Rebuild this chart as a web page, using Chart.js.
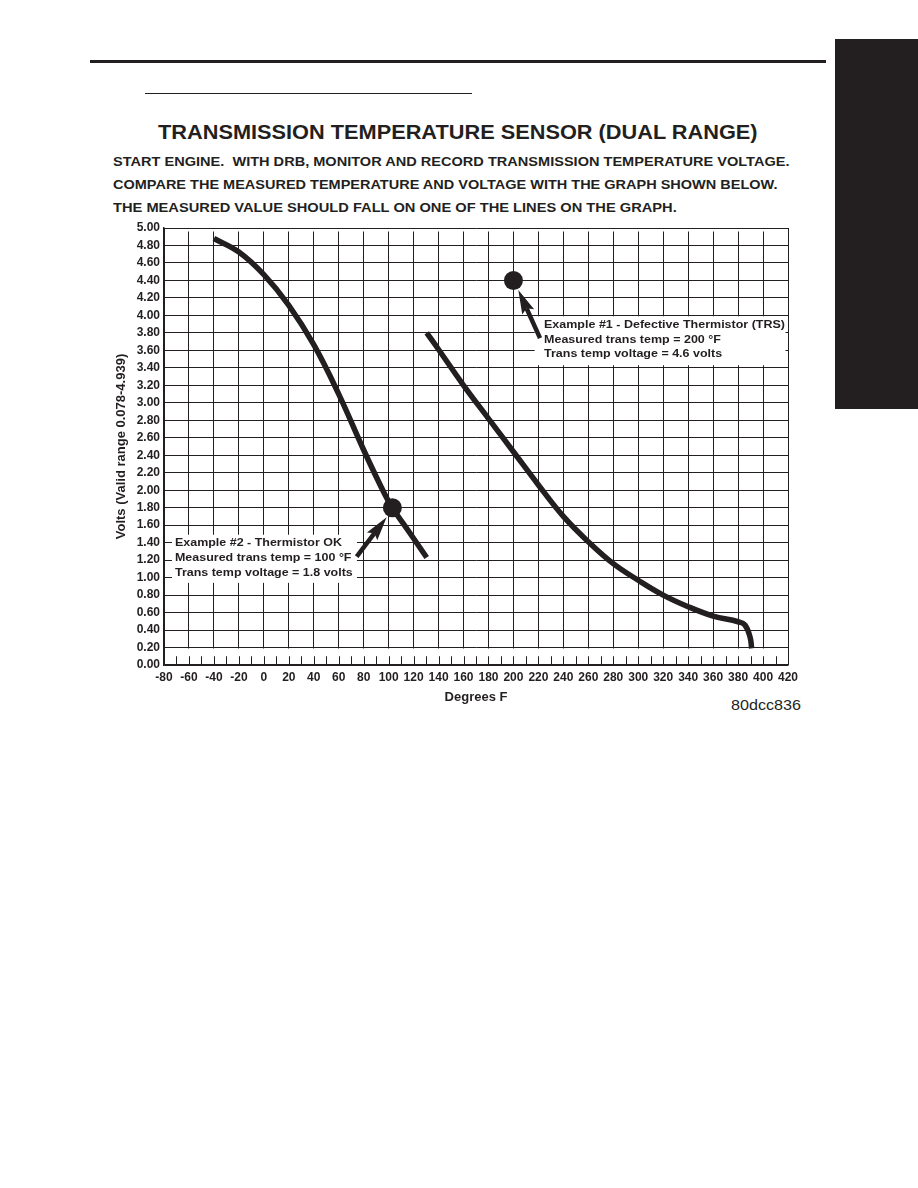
<!DOCTYPE html>
<html>
<head>
<meta charset="utf-8">
<title>Transmission Temperature Sensor (Dual Range)</title>
<script src="https://cdn.jsdelivr.net/npm/chart.js@4.4.1/dist/chart.umd.min.js"></script>
<style>
html,body{margin:0;padding:0;background:#fff;}
body{width:918px;height:1188px;position:relative;overflow:hidden;
font-family:'Liberation Sans',Arial,Helvetica,sans-serif;color:#231f20;}
#grafico{position:absolute;left:0;top:0;}
.rule{position:absolute;background:#231f20;}
.txt{position:absolute;white-space:nowrap;font-weight:bold;line-height:1;transform-origin:0 50%;}
</style>
</head>
<body>

<div class="rule" style="left:90px;top:60px;width:736px;height:3px"></div>
<div class="rule" style="left:145px;top:93px;width:327px;height:1px"></div>
<div class="rule" style="left:835px;top:39px;width:83px;height:370px"></div>

<div class="txt" data-x="158" data-cy="133" data-w="600" data-fs="19.5">TRANSMISSION TEMPERATURE SENSOR (DUAL RANGE)</div>
<div class="txt" data-x="113" data-cy="161" data-w="677" data-fs="13">START ENGINE.&nbsp; WITH DRB, MONITOR AND RECORD TRANSMISSION TEMPERATURE VOLTAGE.</div>
<div class="txt" data-x="113" data-cy="184" data-w="665" data-fs="13">COMPARE THE MEASURED TEMPERATURE AND VOLTAGE WITH THE GRAPH SHOWN BELOW.</div>
<div class="txt" data-x="113" data-cy="207" data-w="564" data-fs="13">THE MEASURED VALUE SHOULD FALL ON ONE OF THE LINES ON THE GRAPH.</div>
<div class="txt" data-x="731" data-cy="704" data-w="70" data-fs="15" style="font-weight:normal">80dcc836</div>

<canvas id="grafico" width="918" height="1188"></canvas>

<script>
const INK = '#231f20';

// tick labels
const tempTicks = [-80, -60, -40, -20, 0, 20, 40, 60, 80, 100, 120, 140, 160,
  180, 200, 220, 240, 260, 280, 300, 320, 340, 360, 380, 400, 420];
const voltTicks = [0.00, 0.20, 0.40, 0.60, 0.80, 1.00, 1.20, 1.40, 1.60, 1.80,
  2.00, 2.20, 2.40, 2.60, 2.80, 3.00, 3.20, 3.40, 3.60, 3.80, 4.00, 4.20, 4.40,
  4.60, 4.80, 5.00];

// low range curve
const lowTemp = [-40, -20, 0, 20, 40, 60, 80, 97, 103, 117, 130.5];
const lowVolts = [4.88, 4.725, 4.466, 4.115, 3.665, 3.10, 2.46, 1.95, 1.80, 1.51, 1.23];

// high range curve
const highTemp = [130.5, 140, 160, 180, 200, 220, 240, 260, 280, 300, 320, 340,
  360, 380, 385.5, 389.6, 390.9];
const highVolts = [3.80, 3.61, 3.20, 2.82, 2.44, 2.06, 1.70, 1.41, 1.16, 0.97,
  0.80, 0.667, 0.56, 0.495, 0.458, 0.32, 0.19];

// the two example readings
const exampleTemp = [103, 200];
const exampleVolts = [1.80, 4.40];

const callouts = [
  {
    box: {x0: 217, x1: 418, y0: 3.99, y1: 3.43},
    textX: 224.5,
    textY: [3.89, 3.72, 3.56],
    width: 241,
    lines: ['Example #1 - Defective Thermistor (TRS)',
            'Measured trans temp = 200 \u00B0F',
            'Trans temp voltage = 4.6 volts'],
    arrow: {from: [221.3, 3.74], to: [203.9, 4.29]}
  },
  {
    box: {x0: -73.6, x1: 74.6, y0: 1.49, y1: 0.94},
    textX: -71.2,
    textY: [1.40, 1.22, 1.05],
    width: 167,
    lines: ['Example #2 - Thermistor OK',
            'Measured trans temp = 100 \u00B0F',
            'Trans temp voltage = 1.8 volts'],
    arrow: {from: [74.4, 1.24], to: [98.4, 1.69]}
  }
];

const fonte = "'Liberation Sans', Arial, Helvetica, sans-serif";

function pontos(xs, ys) {
  return xs.map((v, i) => ({x: v, y: ys[i]}));
}

// place the page texts and stretch them to the width of the original lettering
function posicionarTextos() {
  const medidor = document.createElement('canvas').getContext('2d');
  document.querySelectorAll('.txt').forEach(el => {
    const fs = parseFloat(el.dataset.fs);
    const peso = el.style.fontWeight === 'normal' ? 'normal' : 'bold';
    medidor.font = peso + ' ' + fs + 'px ' + fonte;
    const w = medidor.measureText(el.textContent).width;
    el.style.fontSize = fs + 'px';
    el.style.left = el.dataset.x + 'px';
    el.style.top = (parseFloat(el.dataset.cy) - 0.5 * fs) + 'px';
    el.style.transform = 'scaleX(' + (parseFloat(el.dataset.w) / w).toFixed(4) + ')';
  });
}

function seta(ctx, x1, y1, x2, y2) {
  const ang = Math.atan2(y2 - y1, x2 - x1);
  const comp = 24, meia = 6.5, entalhe = 4;
  const c = Math.cos(ang), s = Math.sin(ang);
  const bx = x2 - comp * c, by = y2 - comp * s;
  const nx = -s, ny = c;
  ctx.beginPath();
  ctx.moveTo(x1, y1);
  ctx.lineTo(bx + entalhe * c, by + entalhe * s);
  ctx.lineWidth = 4.5;
  ctx.strokeStyle = INK;
  ctx.stroke();
  ctx.beginPath();
  ctx.moveTo(x2, y2);
  ctx.lineTo(bx + meia * nx, by + meia * ny);
  ctx.lineTo(bx + entalhe * c, by + entalhe * s);
  ctx.lineTo(bx - meia * nx, by - meia * ny);
  ctx.closePath();
  ctx.fillStyle = INK;
  ctx.fill();
}

const extras = {
  id: 'extras',
  beforeDatasetsDraw(chart) {
    const {ctx, chartArea, scales: {x, y}} = chart;
    ctx.save();
    ctx.fillStyle = '#fff';

    // vertical rules stop a little short of the top border
    ctx.fillRect(chartArea.left + 1, chartArea.top + 1, chartArea.width - 2, 2.5);

    // lowest band: only short ticks every 10 °F
    const yTop = y.getPixelForValue(0.2);
    const yBot = y.getPixelForValue(0);
    const yTick = y.getPixelForValue(0.1);
    ctx.fillRect(x.left + 1, yTop + 1, x.right - x.left - 2, yBot - yTop - 2);
    ctx.strokeStyle = INK;
    ctx.lineWidth = 1;
    for (let t = x.min + 10; t < x.max; t += 10) {
      const px = Math.round(x.getPixelForValue(t)) + 0.5;
      ctx.beginPath();
      ctx.moveTo(px, yBot);
      ctx.lineTo(px, yTick);
      ctx.stroke();
    }

    // callout boxes
    ctx.font = 'bold 11px ' + fonte;
    ctx.textBaseline = 'middle';
    ctx.textAlign = 'left';
    callouts.forEach(c => {
      const l = x.getPixelForValue(c.box.x0), r = x.getPixelForValue(c.box.x1);
      const t = y.getPixelForValue(c.box.y0), b = y.getPixelForValue(c.box.y1);
      ctx.fillStyle = '#fff';
      ctx.fillRect(l, t, r - l, b - t);
      ctx.fillStyle = INK;
      const k = c.width / ctx.measureText(c.lines[0]).width;
      c.lines.forEach((txt, i) => {
        ctx.save();
        ctx.translate(x.getPixelForValue(c.textX), y.getPixelForValue(c.textY[i]));
        ctx.scale(k, 1);
        ctx.fillText(txt, 0, 0);
        ctx.restore();
      });
    });
    ctx.restore();
  },
  afterDatasetsDraw(chart) {
    const {ctx, scales: {x, y}} = chart;
    ctx.save();
    callouts.forEach(c => {
      seta(ctx,
        x.getPixelForValue(c.arrow.from[0]), y.getPixelForValue(c.arrow.from[1]),
        x.getPixelForValue(c.arrow.to[0]), y.getPixelForValue(c.arrow.to[1]));
    });
    ctx.restore();
  }
};

posicionarTextos();

new Chart(document.getElementById('grafico'), {
  type: 'line',
  data: {
    datasets: [
      {
        label: 'Low range',
        data: pontos(lowTemp, lowVolts),
        borderColor: INK,
        borderWidth: 5.5,
        pointRadius: 0,
        tension: 0.4,
        borderCapStyle: 'butt'
      },
      {
        label: 'High range',
        data: pontos(highTemp, highVolts),
        borderColor: INK,
        borderWidth: 5.5,
        pointRadius: 0,
        tension: 0.4,
        borderCapStyle: 'butt'
      },
      {
        label: 'Examples',
        data: pontos(exampleTemp, exampleVolts),
        showLine: false,
        pointRadius: 9.5,
        pointBackgroundColor: INK,
        pointBorderColor: INK,
        pointBorderWidth: 0
      }
    ]
  },
  options: {
    responsive: false,
    animation: false,
    events: [],
    layout: {
      padding: {left: 104, top: 228, right: 130, bottom: 473}
    },
    plugins: {
      legend: {display: false},
      tooltip: {enabled: false}
    },
    scales: {
      x: {
        type: 'linear',
        min: -80,
        max: 420,
        afterBuildTicks: s => { s.ticks = tempTicks.map(v => ({value: v})); },
        afterFit: s => { s.height = 50; },
        ticks: {
          autoSkip: false,
          maxRotation: 0,
          padding: 5,
          color: INK,
          font: {family: fonte, size: 12, weight: 'bold'},
          callback: v => String(v)
        },
        grid: {color: INK, lineWidth: 1, drawTicks: false},
        border: {color: INK, width: 1.5},
        title: {
          display: true,
          text: 'Degrees F',
          color: INK,
          font: {family: fonte, size: 13, weight: 'bold'},
          padding: {top: 0, bottom: 9.5}
        }
      },
      y: {
        type: 'linear',
        min: 0,
        max: 5,
        afterBuildTicks: s => { s.ticks = voltTicks.map(v => ({value: v})); },
        afterFit: s => { s.width = 60; },
        ticks: {
          autoSkip: false,
          padding: 4,
          color: INK,
          font: {family: fonte, size: 12, weight: 'bold'},
          callback: v => Number(v).toFixed(2)
        },
        grid: {color: INK, lineWidth: 1, drawTicks: false},
        border: {color: INK, width: 1.5},
        title: {
          display: true,
          text: 'Volts (Valid range 0.078-4.939)',
          color: INK,
          font: {family: fonte, size: 13, weight: 'bold'},
          padding: {top: 10, bottom: 0}
        }
      }
    }
  },
  plugins: [extras]
});
</script>
</body>
</html>
